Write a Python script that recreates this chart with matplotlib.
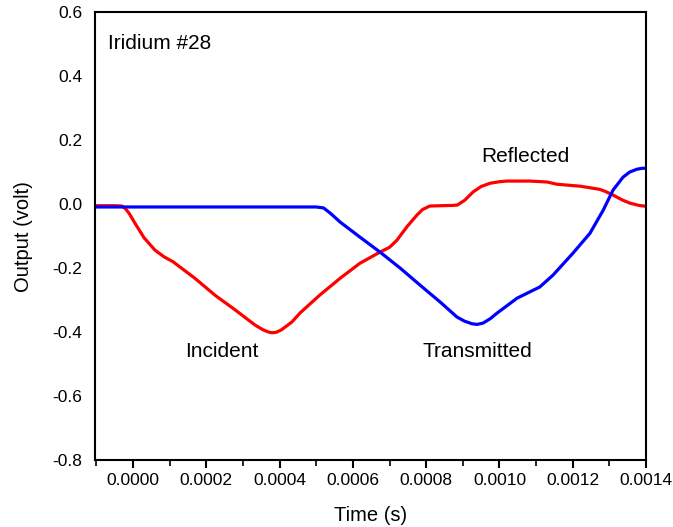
import numpy as np
import matplotlib.pyplot as plt
from matplotlib.ticker import MultipleLocator, FormatStrFormatter

plt.rcParams['font.family'] = ['Liberation Sans', 'DejaVu Sans']

# Incident + reflected signal (red)
tRouge = [-0.0001, -0.00005, -0.00003, -0.00002, -0.00001, 0.0000055, 0.00003,
          0.00006, 0.000085, 0.000109, 0.000169,
          0.000224, 0.000278, 0.000333, 0.000355, 0.00037, 0.000379, 0.00039,
          0.000405, 0.000434, 0.000456, 0.00051, 0.000565, 0.000619, 0.000674,
          0.0007, 0.00072, 0.000748, 0.000775, 0.00079, 0.00081, 0.000873,
          0.000885, 0.000905, 0.000928, 0.00095, 0.000974, 0.001, 0.00102,
          0.001083, 0.00113, 0.001157, 0.00122, 0.001274, 0.00129, 0.00131,
          0.001335, 0.001356, 0.00138, 0.0014]
vRouge = [-0.005, -0.005, -0.006, -0.015, -0.03, -0.06, -0.105,
          -0.144, -0.165, -0.18, -0.232,
          -0.285, -0.33, -0.378, -0.393, -0.4, -0.402, -0.401,
          -0.393, -0.368, -0.34, -0.284, -0.232, -0.185, -0.15,
          -0.135, -0.113, -0.07, -0.034, -0.017, -0.006, -0.004,
          -0.003, 0.012, 0.038, 0.055, 0.065, 0.07, 0.072,
          0.072, 0.069, 0.062, 0.056, 0.046, 0.039, 0.028,
          0.013, 0.003, -0.004, -0.007]

# Transmitted signal (blue)
tBleu = [-0.0001, 0.0003, 0.0005, 0.00052, 0.00054, 0.000565, 0.000619, 0.000674,
         0.000729, 0.000783, 0.000838, 0.000884, 0.000905, 0.000925, 0.000939,
         0.000955, 0.000975, 0.000993, 0.001048, 0.00111, 0.001146, 0.0012,
         0.001247, 0.001283, 0.00131, 0.001337, 0.001355, 0.001375, 0.00139, 0.0014]
vBleu = [-0.009, -0.009, -0.009, -0.012, -0.03, -0.056, -0.103, -0.15,
         -0.2, -0.253, -0.306, -0.353, -0.366, -0.374, -0.376,
         -0.372, -0.358, -0.341, -0.294, -0.259, -0.222, -0.154,
         -0.091, -0.019, 0.044, 0.084, 0.1, 0.109, 0.112, 0.112]

fig = plt.figure(figsize=(6.73, 5.27), dpi=100)
ax = fig.add_axes([0.141, 0.127, 0.819, 0.850])

ax.plot(tRouge, vRouge, color='#ff0000', lw=2.3)
ax.plot(tBleu, vBleu, color='#0000ff', lw=2.3)

ax.set_xlim(-0.000104, 0.0014)
ax.set_ylim(-0.8, 0.6)
ax.xaxis.set_major_locator(MultipleLocator(0.0002))
ax.xaxis.set_minor_locator(MultipleLocator(0.0001))
ax.xaxis.set_major_formatter(FormatStrFormatter('%.4f'))
ax.yaxis.set_major_locator(MultipleLocator(0.2))
ax.yaxis.set_major_formatter(FormatStrFormatter('%.1f'))
ax.tick_params(axis='x', which='major', direction='out', length=6, width=1.5,
               labelsize=12.5, pad=3)
ax.tick_params(axis='x', which='minor', direction='out', length=4, width=1.2)
ax.tick_params(axis='y', length=0, labelsize=12.5, pad=9)
for s in ax.spines.values():
    s.set_linewidth(1.5)

ax.set_xlabel('Time (s)', fontsize=14.5, labelpad=13)
ax.set_ylabel('Output (volt)', fontsize=14.5, labelpad=14)

ax.text(0.024, 0.93, 'Iridium #28', transform=ax.transAxes, fontsize=15,
        ha='left', va='center')
ax.text(0.000243, -0.46, 'Incident', fontsize=15, ha='center', va='center')
ax.text(0.000939, -0.46, 'Transmitted', fontsize=15, ha='center', va='center')
ax.text(0.001072, 0.15, 'Reflected', fontsize=15, ha='center', va='center')

plt.savefig('out.png', dpi=100)
